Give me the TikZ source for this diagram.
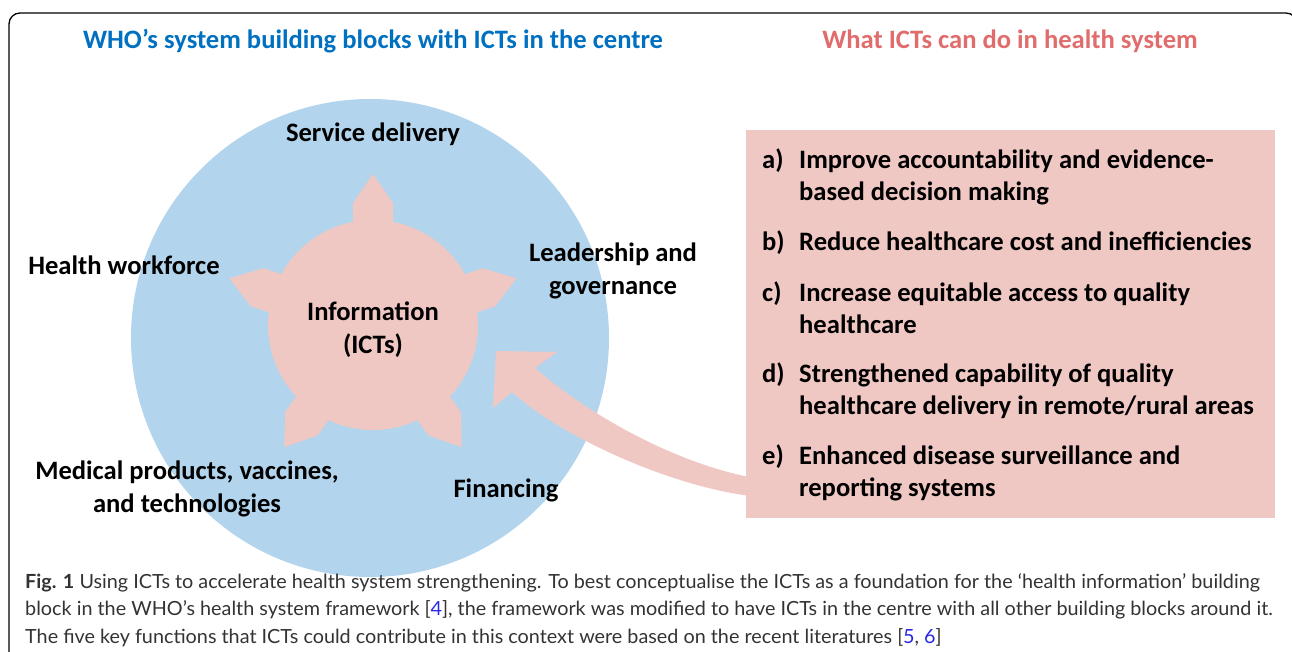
\documentclass[tikz,border=0pt]{standalone}
\usepackage{fontspec}
\setmainfont{Carlito}
\newfontfamily\capfont[FakeStretch=1.015]{Lato}
\definecolor{ringblue}{RGB}{178,212,236}
\definecolor{infopink}{RGB}{240,200,195}
\definecolor{titleblue}{RGB}{0,112,192}
\definecolor{titlered}{RGB}{224,108,108}
\definecolor{captext}{RGB}{51,51,51}
\definecolor{reflink}{RGB}{40,40,230}
\begin{document}
\begin{tikzpicture}[x=1pt,y=-1pt,
  lbl/.style={font=\bfseries\fontsize{26.6}{33}\selectfont, align=center, inner sep=0pt},
  title/.style={font=\bfseries\fontsize{26.6}{30}\selectfont, inner sep=0pt},
  itemkey/.style={font=\bfseries\fontsize{26.6}{32.5}\selectfont, anchor=base west, inner sep=0pt},
  itemtext/.style={font=\bfseries\fontsize{26.6}{32.5}\selectfont, anchor=base west, align=left, inner sep=0pt},
  capline/.style={font=\capfont\fontsize{19.5}{27}\selectfont, text=captext, anchor=base west, inner sep=0pt},
  spoke/.style={fill=infopink}
]
\useasboundingbox (0,0) rectangle (1292,651);
\clip (0,0) rectangle (1292,651);

% outer frame
\draw[line width=1.3pt, rounded corners=11pt] (9,700) -- (9,13) -- (1297,13) -- (1297,700);

% titles
\node[title, text=titleblue] (lefttitle) at (373,41) {WHO’s system building blocks with ICTs in the centre};
\node[title, text=titlered] (righttitle) at (1010,41) {What ICTs can do in health system};

% building-block ring and information hub
\fill[ringblue] (370,338) circle (239);
\fill[infopink] (373,325) circle (105);
\foreach \a in {0,72,144,216,288}
  \fill[spoke, shift={(373,325)}, rotate=\a]
    (-20,-90) -- (-20,-122) -- (0,-151) -- (20,-122) -- (20,-90) -- cycle;

% building-block labels
\node[lbl] (service) at (373,134) {Service delivery};
\node[lbl] (workforce) at (124,265) {Health workforce};
\node[lbl] (leader) at (613,271) {Leadership and\\governance};
\node[lbl] (info) at (373,330) {Information\\(ICTs)};
\node[lbl] (medical) at (187,489) {Medical products, vaccines,\\and technologies};
\node[lbl] (finance) at (506,490) {Financing};

% curved arrow from the functions list into the ring
\fill[infopink] (760,479) .. controls (680,466) and (590,416) .. (535,368)
  -- (557,352) -- (496,351) -- (493,408) -- (512,392)
  .. controls (565,440) and (680,490) .. (760,497) -- cycle;

% functions box
\node[fill=infopink, minimum width=529, minimum height=388, anchor=north west, inner sep=0pt] (box) at (746,130) {};
\node[itemkey] (ka) at (762,168) {a)};
\node[itemtext] (ta) at (799,200.5) {Improve accountability and evidence-\\based decision making};
\node[itemkey] (kb) at (762,250) {b)};
\node[itemtext] (tb) at (799,250) {Reduce healthcare cost and inefficiencies};
\node[itemkey] (kc) at (762,301) {c)};
\node[itemtext] (tc) at (799,333.5) {Increase equitable access to quality\\healthcare};
\node[itemkey] (kd) at (762,382) {d)};
\node[itemtext] (td) at (799,414.5) {Strengthened capability of quality\\healthcare delivery in remote/rural areas};
\node[itemkey] (ke) at (762,464) {e)};
\node[itemtext] (te) at (799,496.5) {Enhanced disease surveillance and\\reporting systems};

% caption
\node[capline] (cap1) at (25,588) {{\bfseries Fig. 1} Using ICTs to accelerate health system strengthening. To best conceptualise the ICTs as a foundation for the ‘health information’ building};
\node[capline] (cap2) at (25,615.5) {block in the WHO’s health system framework [\textcolor{reflink}{4}], the framework was modified to have ICTs in the centre with all other building blocks around it.};
\node[capline] (cap3) at (25,643) {The five key functions that ICTs could contribute in this context were based on the recent literatures [\textcolor{reflink}{5}, \textcolor{reflink}{6}]};
\end{tikzpicture}
\end{document}
